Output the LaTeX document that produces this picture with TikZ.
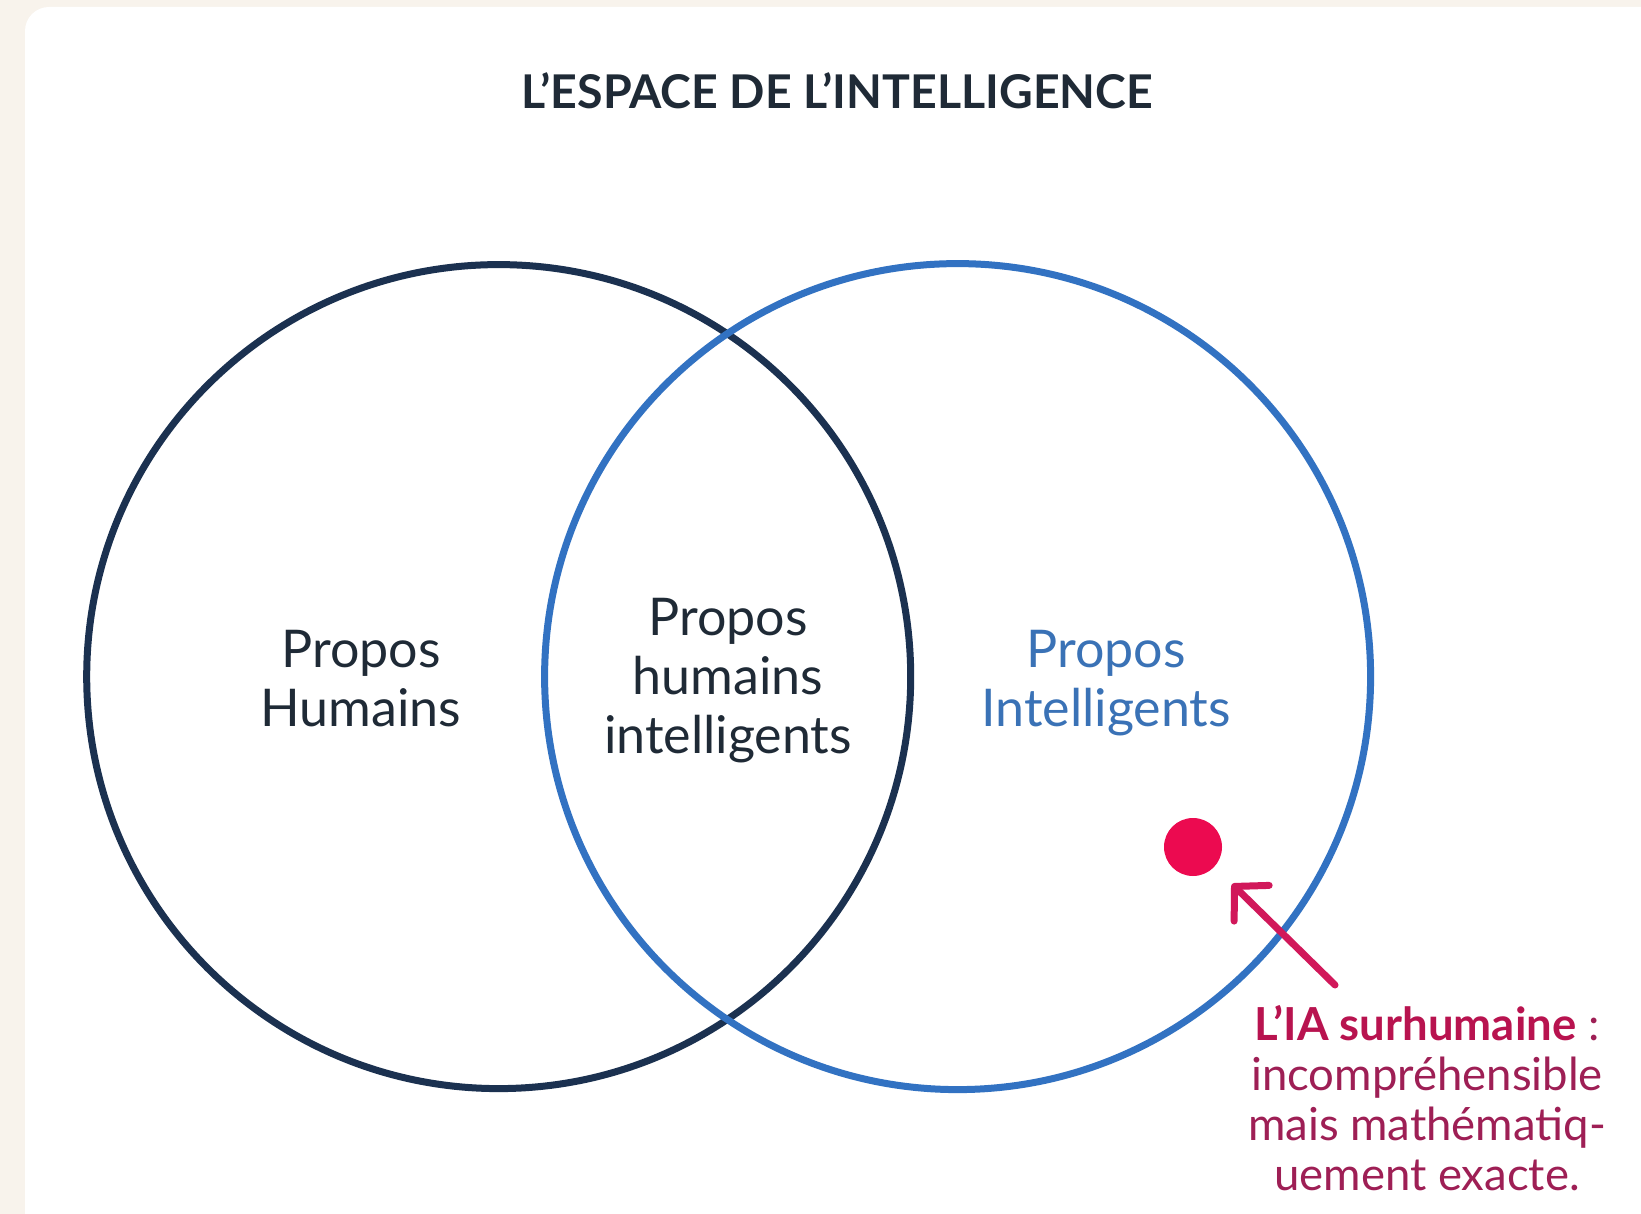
\documentclass[tikz,border=0pt]{standalone}
\usepackage{fontspec}
\setmainfont{Lato}
\usetikzlibrary{positioning, arrows.meta}

\definecolor{cream}{HTML}{F8F3EC}
\definecolor{navy}{HTML}{1B3150}
\definecolor{ink}{HTML}{1F2A36}
\definecolor{azure}{HTML}{3272C2}
\definecolor{azuretext}{HTML}{3A72B6}
\definecolor{crimson}{HTML}{EC0A50}
\definecolor{arrowred}{HTML}{D1185A}
\definecolor{notebold}{HTML}{B8134F}
\definecolor{notetext}{HTML}{9E1F55}

\begin{document}
\begin{tikzpicture}[x=1pt, y=-1pt,
  ring/.style={circle, draw, line width=7pt, inner sep=0pt},
  label/.style={align=center, font=\fontsize{52}{59}\selectfont}]
\useasboundingbox (0,0) rectangle (1641,1214);
\fill[cream] (0,0) rectangle (1641,1214);
\begin{scope}
\clip (0,0) rectangle (1641,1214);
\fill[white, rounded corners=24pt] (25,7) rectangle (1700,1260);
\end{scope}

\node[font=\bfseries\fontsize{46.5}{52}\selectfont, text=ink] (title) at (837,91)
    {L'ESPACE DE L'INTELLIGENCE};

% the two sets
\node[ring, draw=navy, minimum size=824pt] (hum) at (498.7,676.6) {};
\node[ring, draw=azure, minimum size=826pt] (int) at (957.6,676.6) {};

\node[label, text=ink] (humtxt) at (361,679) {Propos\\Humains};
\node[label, text=ink] (both) at (728,681) {Propos\\humains\\intelligents};
\node[label, text=azuretext] (inttxt) at (1106,683) {Propos\\Intelligents};

% superhuman AI
\node[circle, fill=crimson, minimum size=58pt, inner sep=0pt] (dot) at (1193,847) {};
\node[align=center, text=notetext, anchor=north,
    font=\fontsize{45.5}{50}\selectfont] (note) at (1427,1002)
    {{\bfseries\color{notebold}L'IA surhumaine} :\\incompréhensible\\
     mais mathématiq-\\uement exacte.};
\coordinate (tail) at (1335,985);
\coordinate (tip) at (1232,884);
\draw[arrowred, line width=7pt, line cap=round,
    -{Straight Barb[length=24pt, width=50pt, round]}]
    (tail) -- (tip);
\end{tikzpicture}
\end{document}
